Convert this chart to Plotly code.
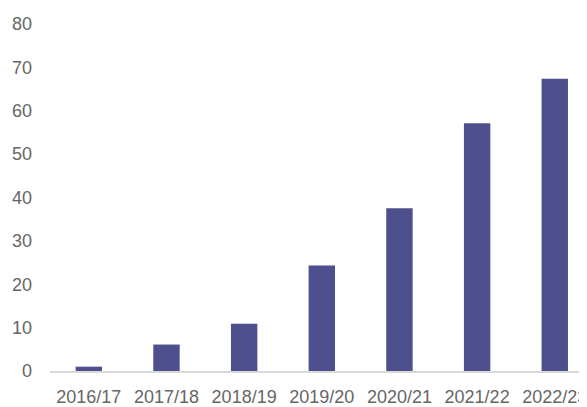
import plotly.graph_objects as go

categories = ["2016/17", "2017/18", "2018/19", "2019/20", "2020/21", "2021/22", "2022/23"]
values = [1.0, 6.1, 10.9, 24.3, 37.5, 57.1, 67.4]
y_ticks = [0, 10, 20, 30, 40, 50, 60, 70, 80]

fig = go.Figure(
    go.Bar(
        x=categories,
        y=values,
        marker=dict(color="#4e508d", line=dict(width=0)),
        width=0.34,
    )
)

# page body has an 8px margin, so the figure is sized to end at the window edge
fig.update_layout(
    width=579,
    height=399,
    margin=dict(l=42, r=0, t=16, b=33),
    paper_bgcolor="white",
    plot_bgcolor="white",
    showlegend=False,
    font=dict(family="Liberation Sans, Arial, sans-serif", size=18, color="#666666"),
)
fig.update_xaxes(
    type="category",
    range=[-0.5, 6.415],
    showgrid=False,
    showline=True,
    linecolor="#d9d9d9",
    linewidth=1.5,
    ticks="",
    ticklabelstandoff=9,
    tickangle=0,
)
fig.update_yaxes(
    range=[0, 80],
    tickvals=y_ticks,
    showgrid=False,
    showline=False,
    zeroline=False,
    ticks="",
    ticklabelstandoff=17,
)

fig.write_html("out.html")
